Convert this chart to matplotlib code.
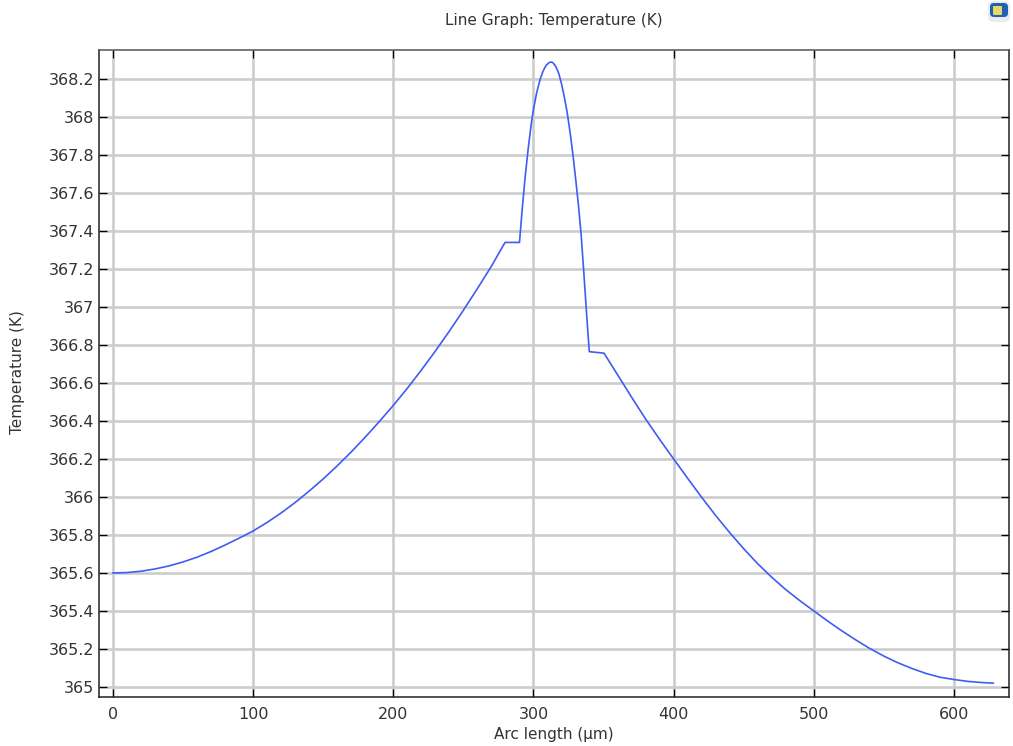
# -*- coding: utf-8 -*-
import matplotlib
matplotlib.use('Agg')
import matplotlib.pyplot as plt
from matplotlib.patches import FancyBboxPatch

# values, arc length (um) and temperature (K)
arc_left = [0, 10, 20, 30, 40, 50, 60, 70, 80, 90, 100, 110, 120, 130, 140, 150, 160, 170, 180,
            190, 200, 210, 220, 230, 240, 250, 260, 270, 279.7]
temp_left = [365.6, 365.602, 365.609, 365.621, 365.637, 365.658, 365.683, 365.713, 365.747, 365.783,
             365.821, 365.866, 365.916, 365.971, 366.031, 366.095, 366.164, 366.237, 366.315,
             366.397, 366.482, 366.572, 366.668, 366.768, 366.873, 366.983, 367.097, 367.215, 367.34]

arc_peak = [290, 291, 292, 293, 294, 295, 296, 297, 298, 299, 300, 301, 302, 303, 305, 307, 309, 311,
            312.5, 314, 316, 318, 320, 322, 324, 326, 328, 330, 332, 334, 336, 338, 339.8]
temp_peak = [367.34, 367.43, 367.52, 367.60, 367.68, 367.75, 367.82, 367.88, 367.94, 367.995, 368.04,
             368.08, 368.118, 368.15, 368.205, 368.245, 368.272, 368.286, 368.29, 368.285, 368.265,
             368.23, 368.175, 368.105, 368.025, 367.925, 367.81, 367.68, 367.54, 367.38, 367.17,
             366.95, 366.765]

arc_right = [350.3, 360, 370, 380, 390, 400, 410, 420, 430, 440, 450, 460, 470, 480, 490, 500,
             510, 520, 530, 540, 550, 560, 570, 580, 590, 600, 610, 620, 628]
temp_right = [366.757, 366.643, 366.525, 366.41, 366.303, 366.2, 366.098, 365.998, 365.902, 365.812,
              365.727, 365.648, 365.577, 365.512, 365.454, 365.4, 365.346, 365.295, 365.247,
              365.202, 365.162, 365.127, 365.097, 365.071, 365.051, 365.039, 365.029, 365.023, 365.02]

xticks = [0, 100, 200, 300, 400, 500, 600]
yticks = [365, 365.2, 365.4, 365.6, 365.8, 366, 366.2, 366.4, 366.6, 366.8, 367,
          367.2, 367.4, 367.6, 367.8, 368, 368.2]

txt = '#333333'
W, H = 1013, 746

fig = plt.figure(figsize=(W/100, H/100), dpi=100)
ax = fig.add_axes([98.5/W, 1-697/H, (1009-98.5)/W, (697-50)/H])

ax.plot(arc_left + arc_peak + arc_right, temp_left + temp_peak + temp_right,
        color='#3f5cf5', lw=1.2, zorder=3)

ax.set_xlim(-10.3, 639.2)
ax.set_ylim(364.947, 368.353)
ax.set_xticks(xticks)
ax.set_yticks(yticks)
ax.set_yticklabels(['%g' % v for v in yticks])
ax.grid(True, color='#cccccc', lw=1.9, zorder=1)
ax.set_axisbelow(True)
ax.tick_params(direction='in', length=6, width=0.9, top=True, right=True,
               labelsize=11.5, labelcolor=txt)
ax.tick_params(axis='x', pad=7)
ax.tick_params(axis='y', pad=3)
for s in ax.spines.values():
    s.set_linewidth(1.1)
    s.set_color('#222222')
ax.spines['top'].set_color('#555555')

# axis labels and title placed in figure pixels
fig.text(554/W, 1-20/H, 'Line Graph: Temperature (K)', ha='center', va='center', fontsize=11, color=txt)
fig.text(554/W, 1-734/H, 'Arc length (µm)', ha='center', va='center', fontsize=11, color=txt)
fig.text(17.5/W, 1-372/H, 'Temperature (K)', ha='center', va='center', rotation=90, fontsize=11, color=txt)

# small icon top right
icon = fig.add_axes([984/W, 1-24/H, 29/W, 24/H])
icon.set_xlim(984, 1013)
icon.set_ylim(24, 0)
icon.axis('off')
icon.add_patch(FancyBboxPatch((988, 1), 22, 21, boxstyle='round,pad=0,rounding_size=6', fc='#e9ebf0', ec='none'))
icon.add_patch(FancyBboxPatch((990, 3), 18, 14, boxstyle='round,pad=0,rounding_size=4', fc='#1f5fb4', ec='none'))
icon.add_patch(FancyBboxPatch((993, 6), 9, 9, boxstyle='round,pad=0,rounding_size=1', fc='#e3d968', ec='none'))

fig.savefig('out.png', dpi=100)
